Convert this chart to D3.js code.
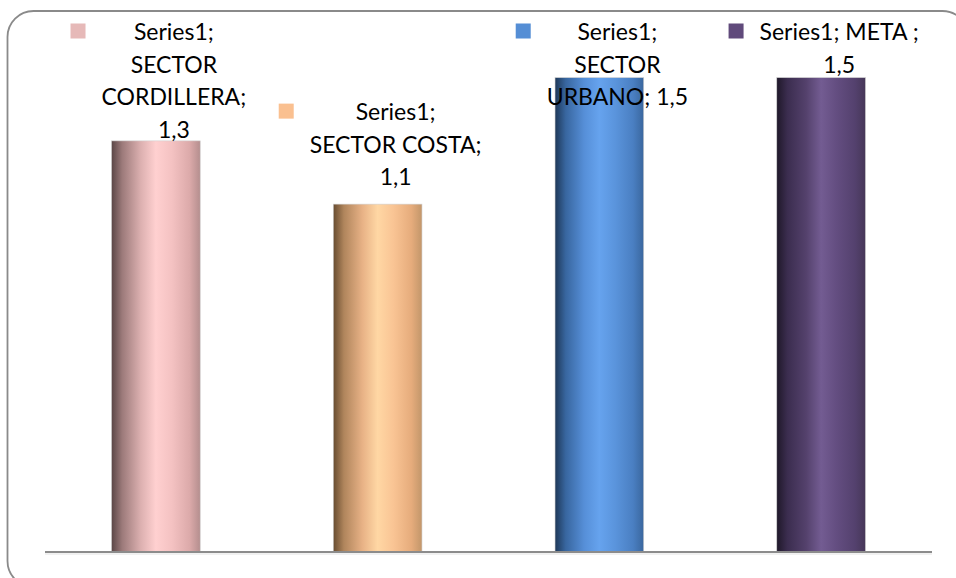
<!DOCTYPE html>
<html>
<head>
<meta charset="utf-8">
<script src="https://cdn.jsdelivr.net/npm/d3@7"></script>
<style>
  html, body { margin: 0; padding: 0; background: #fff; }
  svg { display: block; }
</style>
</head>
<body>
<svg id="chart" width="956" height="578"></svg>
<script>
// ---- data ----
const seriesName = "Series1";
const categories = ["SECTOR CORDILLERA", "SECTOR COSTA", "SECTOR URBANO", "META "];
const values = [1.3, 1.1, 1.5, 1.5];
const labelLines = [
  ["Series1;", "SECTOR", "CORDILLERA;", "1,3"],
  ["Series1;", "SECTOR COSTA;", "1,1"],
  ["Series1;", "SECTOR", "URBANO; 1,5"],
  ["Series1; META ;", "1,5"]
];
const keyColors = ["#e6b9b8", "#fac090", "#558ed5", "#604a7b"];
const gradientStops = [
  ["#5a4646", "#9c7a7a", "#dcb0b0", "#ffd0d0", "#f4c2c2", "#dcaaaa", "#b48e8e"],
  ["#674c30", "#b0855c", "#e8b286", "#ffd7a4", "#f9c494", "#e6ac7c", "#c2966a"],
  ["#1e3858", "#38669f", "#568fd8", "#66a3ee", "#5a94dc", "#4a7fc2", "#3a679e"],
  ["#1f1829", "#3b2d4f", "#54416c", "#735c92", "#634d80", "#54416e", "#463758"]
];

// ---- layout ----
const W = 956, H = 578;
const plot = { left: 45, right: 932, top: 46, bottom: 552 };

const svg = d3.select("#chart");

// outer rounded frame
svg.append("rect")
  .attr("x", 7.5).attr("y", 11).attr("width", 961).attr("height", 576)
  .attr("rx", 26).attr("ry", 26)
  .attr("fill", "#fff").attr("stroke", "#8a8a8a").attr("stroke-width", 1.8);

const x = d3.scaleBand().domain(categories).range([plot.left, plot.right]).paddingInner(0.6).paddingOuter(0.3);
const y = d3.scaleLinear().domain([0, 1.6]).range([plot.bottom, plot.top]);

// gradients
const defs = svg.append("defs");
categories.forEach((c, i) => {
  const g = defs.append("linearGradient").attr("id", "grad" + i)
    .attr("x1", "0%").attr("x2", "100%").attr("y1", "0%").attr("y2", "0%");
  const st = gradientStops[i];
  const offs = [0, 0.12, 0.33, 0.5, 0.68, 0.88, 1];
  st.forEach((col, k) => g.append("stop").attr("offset", offs[k]).attr("stop-color", col));
});

// bars
svg.append("g").selectAll("rect").data(values).join("rect")
  .attr("x", (d, i) => x(categories[i]))
  .attr("width", x.bandwidth())
  .attr("y", d => y(d))
  .attr("height", d => plot.bottom - y(d))
  .attr("fill", (d, i) => `url(#grad${i})`)
  .attr("stroke", "#d0d0d0").attr("stroke-width", 0.6);

// baseline axis
const xAxis = d3.axisBottom(x).tickSize(0).tickFormat("");
const axG = svg.append("g").attr("transform", `translate(0,${plot.bottom})`).call(xAxis);
axG.select(".domain").attr("stroke", "#8c8c8c").attr("stroke-width", 2)
  .attr("d", `M${plot.left},0H${plot.right}`);
svg.append("line").attr("x1", plot.left).attr("x2", plot.right)
  .attr("y1", plot.bottom + 2).attr("y2", plot.bottom + 2)
  .attr("stroke", "#e4e4e4").attr("stroke-width", 1.2);

// data labels with legend keys
const fontSize = 23, lineH = 32.5, topBaseline = 40;
const lblG = svg.append("g")
  .attr("font-family", "Lato, 'Open Sans', sans-serif")
  .attr("font-size", fontSize).attr("fill", "#000");

values.forEach((v, i) => {
  const lines = labelLines[i];
  const cx = x(categories[i]) + x.bandwidth() / 2 + 18;
  const lastBase = y(v) - 19;
  const firstBase = Math.max(topBaseline, lastBase - (lines.length - 1) * lineH);
  const g = lblG.append("g");
  const t = g.append("text").attr("text-anchor", "middle");
  lines.forEach((ln, k) => {
    t.append("tspan").attr("x", cx).attr("y", firstBase + k * lineH).text(ln);
  });
  let maxW = 0;
  t.selectAll("tspan").each(function () { maxW = Math.max(maxW, this.getComputedTextLength()); });
  g.append("rect")
    .attr("x", cx - maxW / 2 - 16 - 15)
    .attr("y", firstBase - 9 - 7.5)
    .attr("width", 15).attr("height", 15)
    .attr("fill", keyColors[i]);
});
</script>
</body>
</html>
